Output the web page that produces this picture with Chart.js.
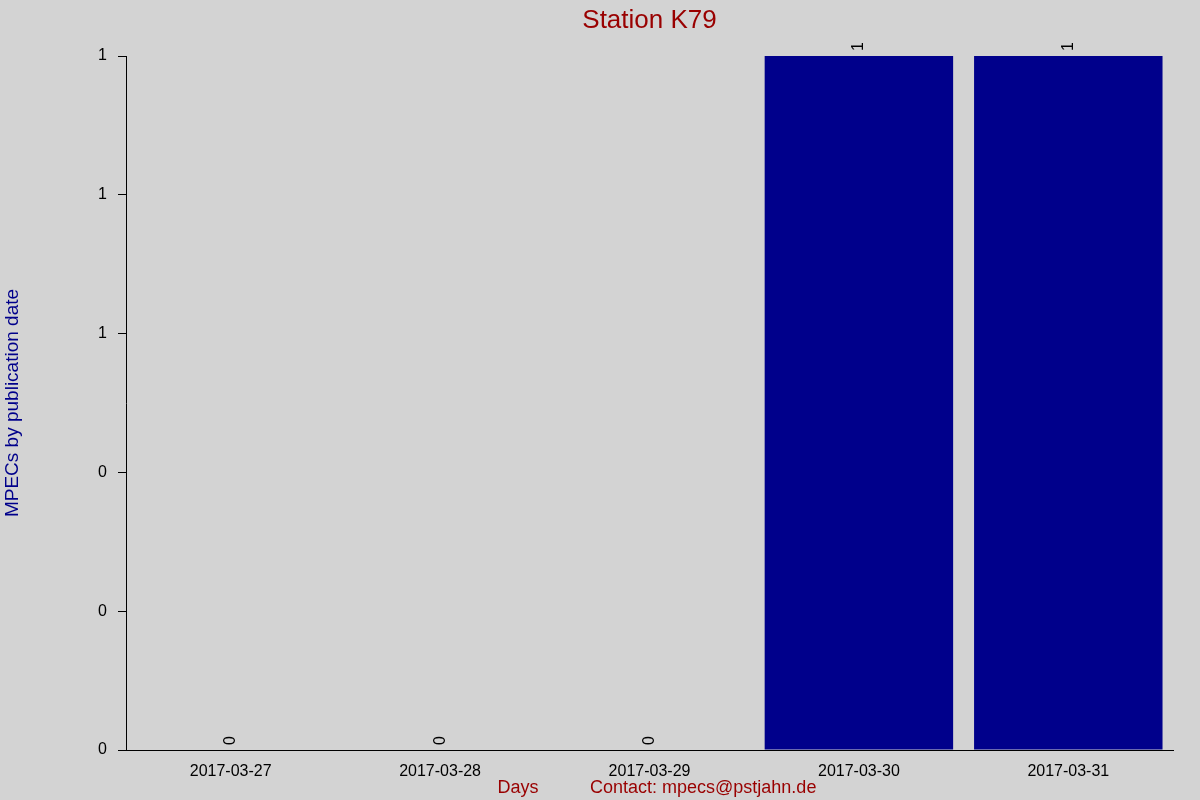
<!DOCTYPE html>
<html>
<head>
<meta charset="utf-8">
<title>Station K79</title>
<script src="https://cdn.jsdelivr.net/npm/chart.js@4"></script>
<style>
  body { margin: 0; background: #d3d3d3; }
  canvas { display: block; }
</style>
</head>
<body>
<canvas id="chart" width="1200" height="800"></canvas>
<script>
const days = ["2017-03-27", "2017-03-28", "2017-03-29", "2017-03-30", "2017-03-31"];
const mpecs = [0, 0, 0, 1, 1];

const titleText = "Station K79";
const yTitle = "MPECs by publication date";
const xTitle = "Days";
const contact = "Contact: mpecs@pstjahn.de";

const FONT = "'Liberation Sans', Arial, sans-serif";
const RED = "#990000";
const BLUE = "#00008b";

// titles, footer and rotated value labels
const decorations = {
  id: "decorations",
  beforeDraw(chart) {
    const ctx = chart.ctx;
    ctx.save();
    ctx.fillStyle = "#d3d3d3";
    ctx.fillRect(0, 0, chart.width, chart.height);
    ctx.restore();
  },
  afterDatasetsDraw(chart) {
    const ctx = chart.ctx;
    const area = chart.chartArea;
    ctx.save();

    ctx.fillStyle = RED;
    ctx.font = "26px " + FONT;
    ctx.textAlign = "center";
    ctx.textBaseline = "alphabetic";
    ctx.fillText(titleText, (area.left + area.right) / 2, 28);

    ctx.font = "18px " + FONT;
    ctx.fillText(xTitle, 518, 793);
    ctx.textAlign = "left";
    ctx.fillText(contact, 590, 793);

    ctx.save();
    ctx.fillStyle = BLUE;
    ctx.font = "19px " + FONT;
    ctx.translate(18, (area.top + area.bottom) / 2);
    ctx.rotate(-Math.PI / 2);
    ctx.textAlign = "center";
    ctx.fillText(yTitle, 0, 0);
    ctx.restore();

    // value labels
    ctx.fillStyle = "#000";
    ctx.font = "16px " + FONT;
    const meta = chart.getDatasetMeta(0);
    meta.data.forEach((bar, i) => {
      ctx.save();
      ctx.translate(bar.x, bar.y - 5);
      ctx.rotate(-Math.PI / 2);
      ctx.textAlign = "left";
      ctx.textBaseline = "middle";
      ctx.fillText(String(mpecs[i]), 0, 0);
      ctx.restore();
    });
    ctx.restore();
  }
};

new Chart(document.getElementById("chart"), {
  type: "bar",
  data: {
    labels: days,
    datasets: [{
      data: mpecs,
      backgroundColor: BLUE,
      borderWidth: 0,
      barPercentage: 0.9,
      categoryPercentage: 1.0
    }]
  },
  options: {
    responsive: false,
    animation: false,
    devicePixelRatio: 1,
    layout: { padding: { top: 56, right: 27, left: 0, bottom: 0 } },
    plugins: {
      legend: { display: false },
      tooltip: { enabled: false }
    },
    scales: {
      x: {
        grid: { display: false },
        border: { display: true, color: "#000", width: 1 },
        ticks: { color: "#000", font: { family: FONT, size: 16 }, padding: 4, maxRotation: 0 },
        afterFit(scale) { scale.height = 50; }
      },
      y: {
        min: 0,
        max: 1,
        grid: { drawOnChartArea: false, drawTicks: true, tickLength: 8, color: "#000" },
        border: { display: true, color: "#000", width: 1 },
        ticks: {
          stepSize: 0.2,
          color: "#000",
          font: { family: FONT, size: 16 },
          padding: 11,
          callback: (v) => Math.round(v)
        },
        afterFit(scale) { scale.width = 126; }
      }
    }
  },
  plugins: [decorations]
});
</script>
</body>
</html>
